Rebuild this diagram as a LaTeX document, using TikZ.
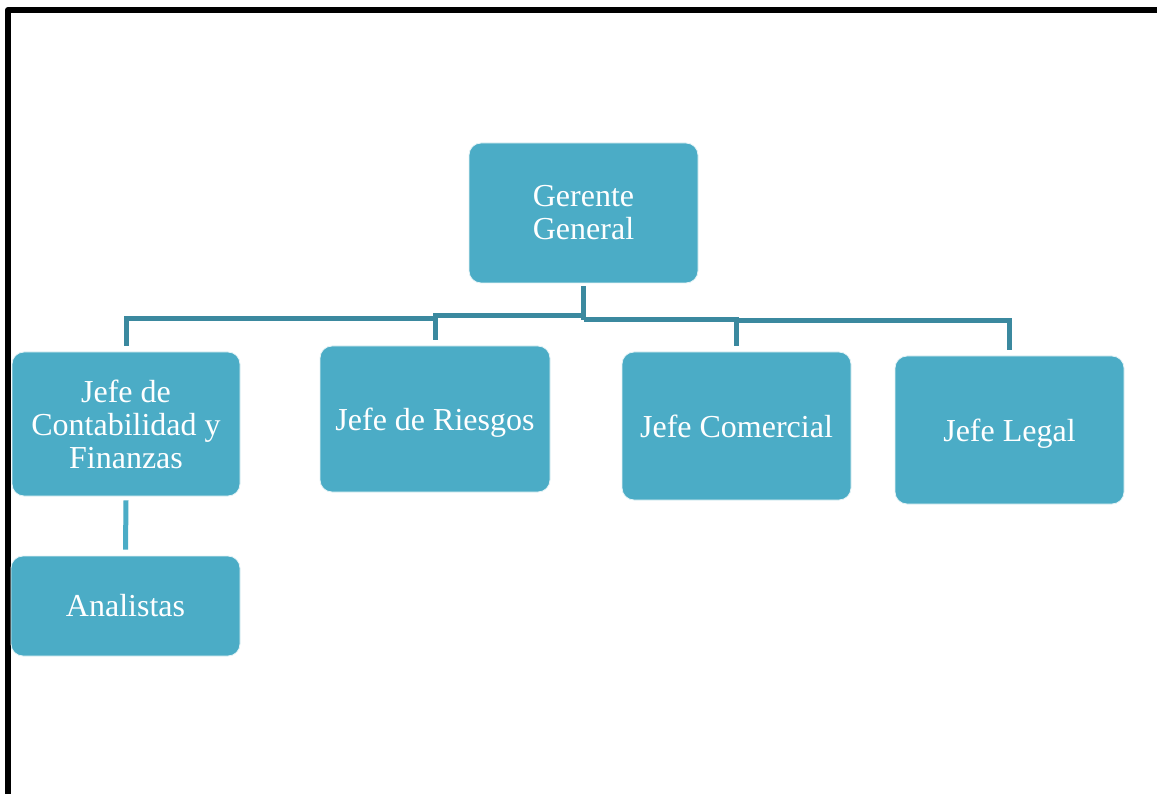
\documentclass[tikz,border=0pt]{standalone}
\usepackage{fontspec}
\setmainfont{Liberation Serif}
\begin{document}
\begin{tikzpicture}[x=1pt,y=-1pt,
  box/.style={draw=white!85!boxfill, line width=0.8pt, fill=boxfill, rounded corners=12pt,
    text=white, align=center, inner sep=0pt,
    font=\fontsize{32}{33}\selectfont},
  conn/.style={draw=connc, line width=5pt},
  conn2/.style={draw=boxfill, line width=5pt}]
\definecolor{boxfill}{HTML}{4BACC6}
\definecolor{connc}{HTML}{3B899F}
\useasboundingbox (0,0) rectangle (1157,794);
\fill[white] (0,0) rectangle (1157,794);
% border
\draw[line width=6pt, line join=round] (8,794) -- (8,10) -- (1157,10);
% nodes
\node[box, minimum width=229pt, minimum height=140pt] (g) at (583.5,213) {Gerente\\General};
\node[box, minimum width=228pt, minimum height=144pt] (c) at (126,424) {Jefe de\\Contabilidad y\\Finanzas};
\node[box, minimum width=230pt, minimum height=146pt] (r) at (435,419) {\raisebox{-4pt}[\height][\depth]{Jefe de Riesgos}};
\node[box, minimum width=229pt, minimum height=148pt] (m) at (736.5,426) {Jefe Comercial};
\node[box, minimum width=229pt, minimum height=148pt] (l) at (1009.5,430) {\raisebox{-3.5pt}[\height][\depth]{Jefe Legal}};
\node[box, minimum width=229pt, minimum height=100pt] (a) at (125.5,606) {Analistas};
% bus levels
\coordinate (y1) at (0,316);
\coordinate (y2) at (0,318.5);
\coordinate (y3) at (0,320);
\coordinate (y4) at (0,321);
% connectors
\draw[conn] ([yshift=-3pt]g.south) -- (g.south |- y3);
\draw[conn] (g.south |- y1) -| ([yshift=6pt]r.north);
\draw[conn] (r.north |- y2) -| ([yshift=6pt]c.north);
\draw[conn] (g.south |- y3) -| ([yshift=6pt]m.north);
\draw[conn] (m.north |- y4) -| ([yshift=6pt]l.north);
\draw[conn2] ([yshift=-4pt]c.south) -- ([yshift=6pt]a.north);
\end{tikzpicture}
\end{document}
